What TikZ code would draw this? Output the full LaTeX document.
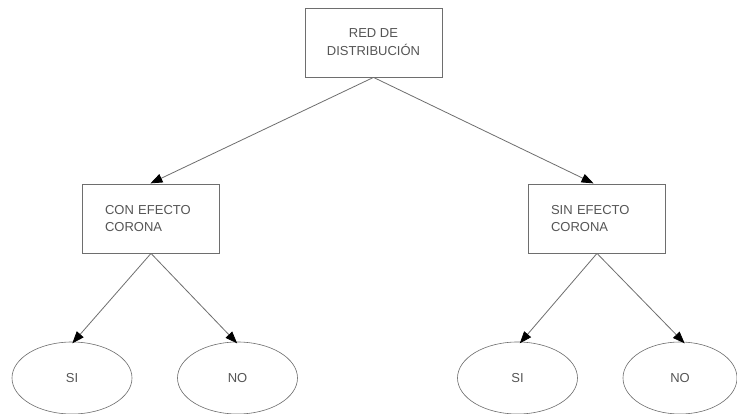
\documentclass[tikz,border=0pt]{standalone}
\usepackage{fontspec}
\setmainfont{Liberation Sans}
\usetikzlibrary{arrows.meta,shapes.geometric}
\definecolor{edgegray}{HTML}{6E6E6E}
\definecolor{textgray}{HTML}{555555}
\begin{document}
\begin{tikzpicture}[x=1pt,y=-1pt,
  every node/.style={font=\fontsize{13}{17}\selectfont, text=textgray},
  box/.style={draw=edgegray, line width=0.8pt, rectangle, minimum width=137pt, minimum height=69pt, inner sep=0pt},
  leftbox/.style={box, align=left, text width=92pt},
  oval/.style={draw=edgegray, line width=0.6pt, ellipse, minimum width=120pt, minimum height=72pt, inner sep=0pt},
  link/.style={draw=edgegray, line width=0.8pt, -{Triangle[length=12pt,width=9pt,color=black]}, shorten >=0.5pt}
]
\useasboundingbox (0,0) rectangle (737,414);
\fill[white] (0,0) rectangle (737,414);

% boxes
\node[box, align=center] (red) at (373.5,42.5) {\raisebox{-3pt}{\parbox{130pt}{\centering RED DE\\[1pt] DISTRIBUCIÓN}}};
\node[leftbox] (con) at (151,218.5) {CON EFECTO\\CORONA};
\node[leftbox] (sin) at (597,218.5) {SIN EFECTO\\CORONA};

% ellipses
\node[oval] (si1) at (72,378) {SI};
\node[oval] (no1) at (237.5,378) {NO};
\node[oval] (si2) at (517.5,378) {SI};
\node[oval, minimum width=114pt] (no2) at (680,378) {NO};

% connectors
\draw[link] (red.south) -- ([xshift=-1pt]con.north);
\draw[link] (red.south) -- ([xshift=-3pt]sin.north);
\draw[link] (con.south) -- ([yshift=-2pt]si1.north);
\draw[link] (con.south) -- ([yshift=-2pt]no1.north);
\draw[link] (sin.south) -- ([xshift=2pt,yshift=-2pt]si2.north);
\draw[link] (sin.south) -- ([xshift=5pt,yshift=-2pt]no2.north);
\end{tikzpicture}
\end{document}
